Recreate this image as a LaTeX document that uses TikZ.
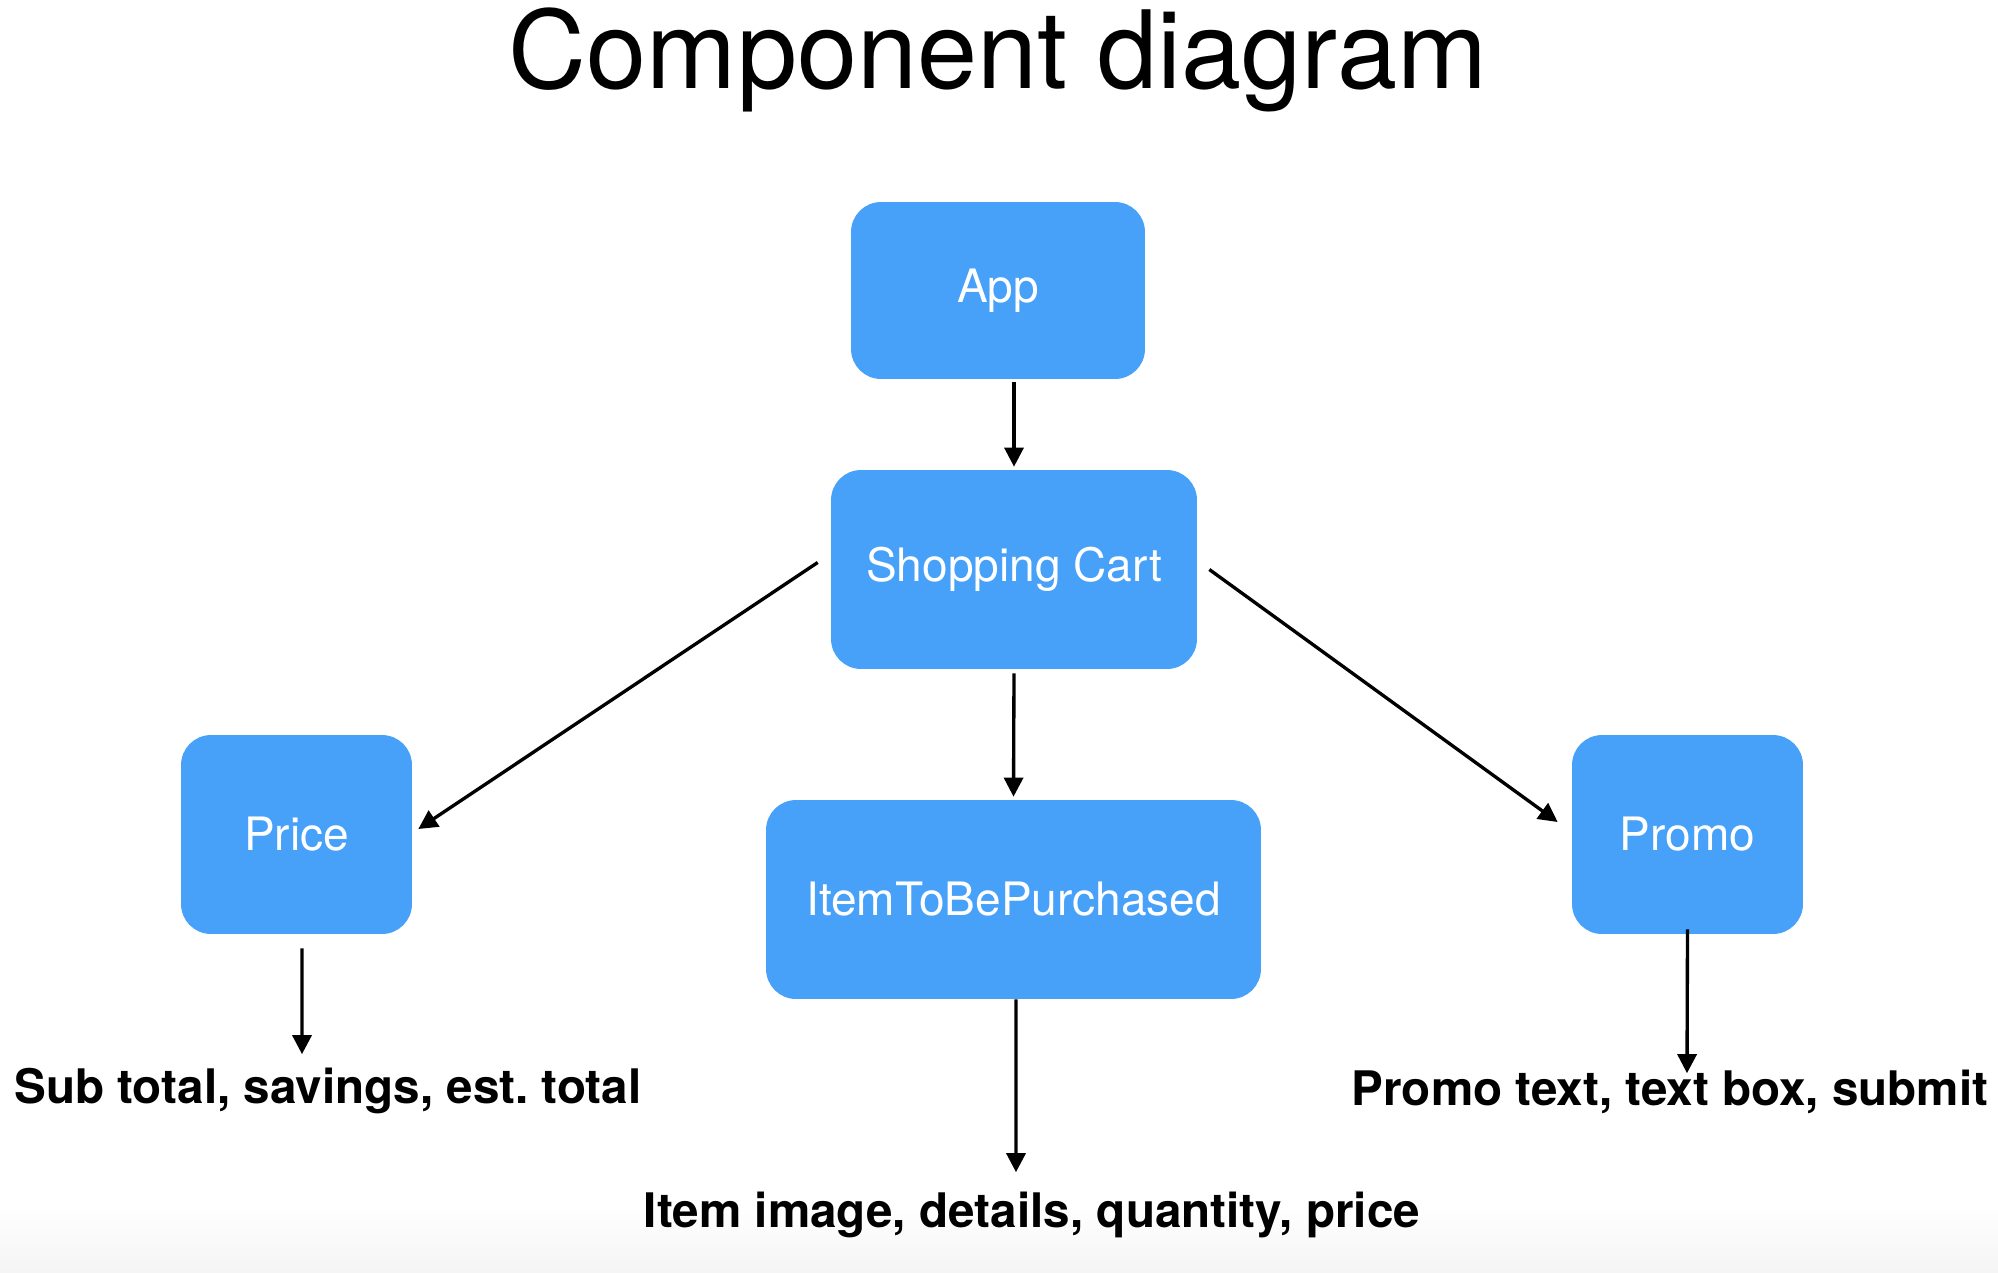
\documentclass[tikz,border=0pt]{standalone}
\usepackage{fontspec}
\setmainfont{TeX Gyre Heros}
\usepackage{tikz}
\usetikzlibrary{arrows.meta, positioning, shapes, calc}

\definecolor{compblue}{RGB}{71,161,248}

\tikzset{
    comp/.style={rectangle, fill=compblue, rounded corners=0.6cm, text=white, font=\fontsize{26.2}{30}\selectfont, inner sep=0pt},
    part/.style={inner sep=0pt, font=\fontsize{27.1}{31}\selectfont\bfseries, anchor=base},
    link/.style={-{Triangle[length=0.38cm, width=0.38cm]}, line width=1.9pt}
}

\frenchspacing
\begin{document}
\begin{tikzpicture}[x=0.02cm, y=-0.02cm]
    \useasboundingbox (0,0) rectangle (1998,1272);
    \shade[top color=white, bottom color=black!4] (0,1205) rectangle (1998,1272);

    \node (Title) [anchor=base] at (998,88) {\fontsize{61.5}{70}\selectfont Component diagram};

    \node (App) [comp, minimum width=5.88cm, minimum height=3.54cm] at (998,290.5) {App};
    \node (Cart) [comp, minimum width=7.32cm, minimum height=3.98cm] at (1014,569.5) {Shopping Cart};
    \node (Price) [comp, minimum width=4.62cm, minimum height=3.98cm] at (296.5,834.5) {Price};
    \node (Item) [comp, minimum width=9.9cm, minimum height=3.98cm] at (1013.5,899.5) {ItemToBePurchased};
    \node (Promo) [comp, minimum width=4.62cm, minimum height=3.98cm] at (1687.5,834.5) {Promo};

    \node (PriceParts) [part] at (328,1103) {Sub total, savings, est. total};
    \node (ItemParts) [part] at (1032,1227) {Item image, details, quantity, price};
    \node (PromoParts) [part] at (1670,1105) {Promo text, text box, submit};

    \draw[link] ([yshift=-0.06cm]App.south -| Cart.north) -- ([yshift=0.06cm]Cart.north);
    \draw[link] ([yshift=-0.08cm]Cart.south) -- ([yshift=0.06cm]Item.north);
    \draw[link] ([shift={(-13,-7)}]Cart.west) -- ([shift={(6,-5.5)}]Price.east);
    \draw[link] ([shift={(12,0)}]Cart.east) -- ([shift={(-14,-12.5)}]Promo.west);

    \draw[link] ([shift={(5.5,14)}]Price.south) -- ([shift={(-26,-13)}]PriceParts.north);
    \draw[link] ([shift={(2.5,0)}]Item.south) -- ([shift={(-16,-19)}]ItemParts.north);
    \draw[link] ([shift={(0,-5)}]Promo.south) -- ([shift={(17,4)}]PromoParts.north);
\end{tikzpicture}
\end{document}
